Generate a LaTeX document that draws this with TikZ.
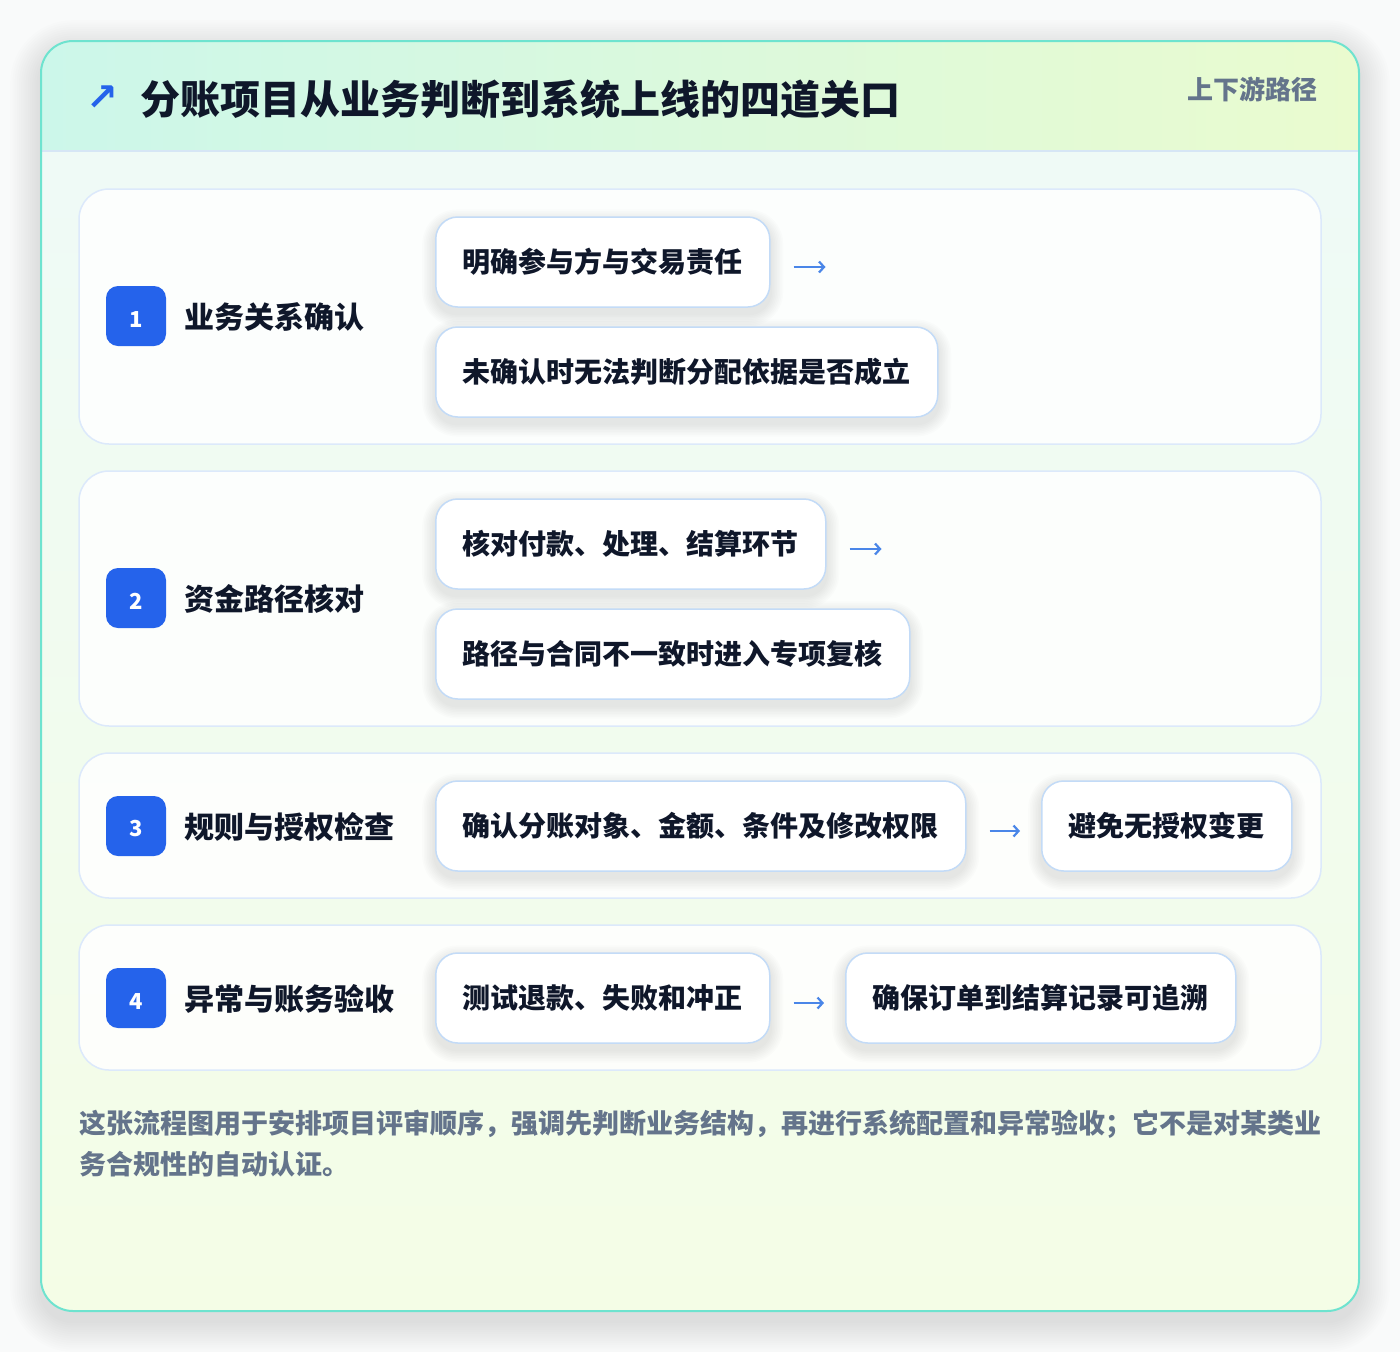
\documentclass[tikz,border=0pt]{standalone}
\usepackage{fontspec}
\setmainfont{Noto Sans CJK SC}
\newfontfamily\symfont{DejaVu Sans}
\usetikzlibrary{arrows.meta,calc}
\pgfdeclarelayer{bglayer}
\pgfdeclarelayer{shlayer}
\pgfsetlayers{bglayer,shlayer,main}
\definecolor{pagebg}{HTML}{F9FAFA}
\definecolor{cardline}{HTML}{6EE3CF}
\definecolor{headL}{HTML}{CCF7EA}
\definecolor{headR}{HTML}{EAFBCF}
\definecolor{bodyT}{HTML}{EEFAF8}
\definecolor{bodyB}{HTML}{F4FDE6}
\definecolor{hline}{HTML}{D6E6F5}
\definecolor{panelline}{HTML}{DCE9FB}
\definecolor{boxline}{HTML}{C3DBF7}
\definecolor{ink}{HTML}{0F172A}
\definecolor{slate}{HTML}{64748B}
\definecolor{badgeblue}{HTML}{2563EB}
\definecolor{arrowblue}{HTML}{4A86E8}
% soft layered shadow below a node: #1 node name, #2 corner radius
\newcommand\mysoftshadow[2]{%
  \foreach \i in {1,...,8}{%
    \pgfmathsetmacro\rr{#2+\i*1.6}%
    \pgfmathsetmacro\ss{\i*1.6}%
    \fill[black, opacity=0.011, rounded corners=\rr pt]
      ($(#1.south west)+(-\ss,\ss+6)$) rectangle ($(#1.north east)+(\ss,-\ss+6)$);
  }}
\newcommand\badgenum[1]{\rule{0pt}{22pt}#1}
\begin{document}
\begin{tikzpicture}[x=1pt,y=-1pt,
  panel/.style={draw=panelline, line width=1.5pt, fill=white, fill opacity=0.85, draw opacity=1,
    rounded corners=30pt, inner sep=0pt, minimum width=1242pt},
  badge/.style={fill=badgeblue, rounded corners=12pt, minimum size=60pt, inner sep=0pt,
    text=white, font=\fontsize{22}{22}\selectfont\bfseries},
  lbl/.style={anchor=west, inner sep=0pt, text=ink, font=\fontsize{30}{34}\selectfont\bfseries},
  stepbox/.style={draw=boxline, line width=1.5pt, fill=white, rounded corners=22pt,
    minimum height=90pt, inner xsep=27pt, inner ysep=0pt, anchor=west, text=ink,
    font=\fontsize{28}{32}\selectfont\bfseries},
  arr/.style={draw=arrowblue, line width=2.8pt, -{Straight Barb[length=5pt,width=11pt,line width=2.2pt]},
    shorten <=23pt, shorten >=21pt},
  foot/.style={anchor=base west, inner sep=0pt, text=slate, font=\fontsize{27}{30}\selectfont\bfseries}
]
\begin{pgfonlayer}{bglayer}
\fill[pagebg] (0,0) rectangle (1400,1352);
% card shadow
\foreach \i in {1,...,14}{%
  \pgfmathsetmacro\rr{32+\i*2.2}%
  \pgfmathsetmacro\ss{\i*2.2}%
  \fill[black, opacity=0.009, rounded corners=\rr pt]
    ($(41,1311)+(-\ss,\ss+10)$) rectangle ($(1359,41)+(\ss,-\ss+10)$);
}
% card
\shade[top color=bodyT, bottom color=bodyB, rounded corners=32pt] (41,41) rectangle (1359,1311);
\begin{scope}
  \clip[rounded corners=32pt] (41,41) rectangle (1359,1311);
  \shade[left color=headL, right color=headR] (41,41) rectangle (1359,151);
\end{scope}
\draw[hline, line width=1.5pt] (42,151) -- (1358,151);
\draw[cardline, line width=2pt, rounded corners=32pt] (41,41) rectangle (1359,1311);
% panels
\node[panel, minimum height=255pt] (p1) at (700,316.5) {};
\node[panel, minimum height=255pt] (p2) at (700,598.5) {};
\node[panel, minimum height=145pt] (p3) at (700,825.5) {};
\node[panel, minimum height=145pt] (p4) at (700,997.5) {};
\end{pgfonlayer}
\useasboundingbox (0,0) rectangle (1400,1352);
% header
\node[text=badgeblue, inner sep=0pt, font=\symfont\bfseries\fontsize{38}{38}\selectfont] (icon) at (102,98) {↗};
\node[anchor=west, inner sep=0pt, text=ink, font=\fontsize{40}{44}\selectfont\bfseries] (title) at (140,99) {分账项目从业务判断到系统上线的四道关口};
\node[anchor=east, inner sep=0pt, text=slate, font=\fontsize{26}{30}\selectfont\bfseries] (tag) at (1318,89) {上下游路径};
% badges and labels
\node[badge] (n1) at (136,316) {\badgenum{1}};
\node[badge] (n2) at (136,598) {\badgenum{2}};
\node[badge] (n3) at (136,826) {\badgenum{3}};
\node[badge] (n4) at (136,998) {\badgenum{4}};
\node[lbl] (l1) at (184,317) {业务关系确认};
\node[lbl] (l2) at (184,599) {资金路径核对};
\node[lbl] (l3) at (184,827) {规则与授权检查};
\node[lbl] (l4) at (184,999) {异常与账务验收};
% stage boxes
\node[stepbox] (b1a) at (435,262) {明确参与方与交易责任};
\node[stepbox] (b1b) at (435,372) {未确认时无法判断分配依据是否成立};
\node[stepbox] (b2a) at (435,544) {核对付款、处理、结算环节};
\node[stepbox] (b2b) at (435,654) {路径与合同不一致时进入专项复核};
\node[stepbox] (b3a) at (435,826) {确认分账对象、金额、条件及修改权限};
\node[stepbox] (b3b) at (1041,826) {避免无授权变更};
\node[stepbox] (b4a) at (435,998) {测试退款、失败和冲正};
\node[stepbox] (b4b) at (845,998) {确保订单到结算记录可追溯};
\begin{pgfonlayer}{shlayer}
\mysoftshadow{b1a}{22}
\mysoftshadow{b1b}{22}
\mysoftshadow{b2a}{22}
\mysoftshadow{b2b}{22}
\mysoftshadow{b3a}{22}
\mysoftshadow{b3b}{22}
\mysoftshadow{b4a}{22}
\mysoftshadow{b4b}{22}
\end{pgfonlayer}
% arrows
\coordinate (t1) at ($(b1a.east)+(76,0)$);
\coordinate (t2) at ($(b2a.east)+(76,0)$);
\draw[arr] ([yshift=-5pt]b1a.east) -- ([yshift=-5pt]t1);
\draw[arr] ([yshift=-5pt]b2a.east) -- ([yshift=-5pt]t2);
\draw[arr] ([yshift=-5pt]b3a.east) -- ([yshift=-5pt]b3b.west);
\draw[arr] ([yshift=-5pt]b4a.east) -- ([yshift=-5pt]b4b.west);
% footer
\node[foot] (f1) at (79,1133) {这张流程图用于安排项目评审顺序，强调先判断业务结构，再进行系统配置和异常验收；它不是对某类业};
\node[foot] (f2) at (79,1174) {务合规性的自动认证。};
\end{tikzpicture}
\end{document}
